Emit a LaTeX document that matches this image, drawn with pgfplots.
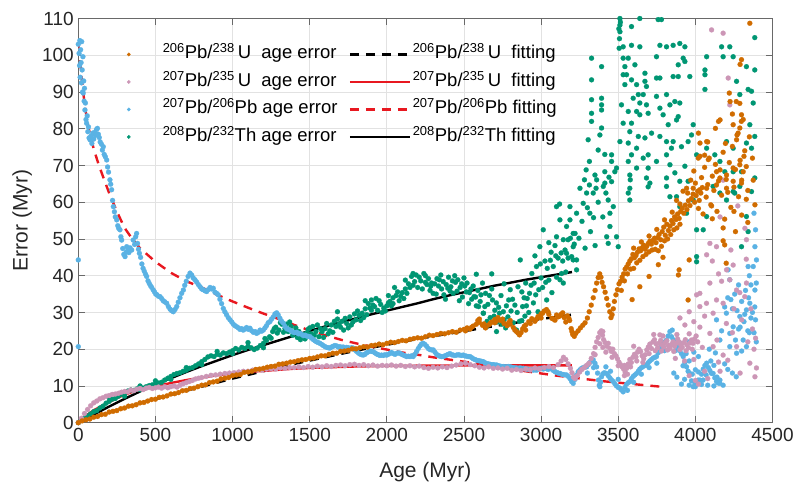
\documentclass[border=0pt]{standalone}
\usepackage{fontspec}
\setmainfont{Liberation Sans}
\usepackage{pgfplots}
\pgfplotsset{compat=1.18}

\definecolor{cUa}{RGB}{208,108,0}
\definecolor{cUb}{RGB}{204,150,182}
\definecolor{cPb}{RGB}{90,178,228}
\definecolor{cTh}{RGB}{0,150,115}
\definecolor{fitred}{RGB}{232,24,32}
\definecolor{gridgray}{RGB}{226,226,226}
\definecolor{axgray}{RGB}{105,105,105}
\definecolor{txt}{RGB}{38,38,38}

\pgfplotsset{
  scat/.style={only marks, mark=*, mark size=2.5pt, color=#1,
    mark options={solid, fill=#1, draw=#1, line width=0.2pt}, forget plot},
  fit/.style={no marks, line width=2.4pt, forget plot},
  dotentry/.style={legend image code/.code={%
    \path[draw=none, fill=none] (0pt,-4pt) rectangle (44pt,4pt);
    \fill[#1] (10pt,0pt) circle (1.7pt);}},
  lineentry/.style={legend image code/.code={%
    \draw[line width=2.4pt, #1] (0pt,0pt) -- (60pt,0pt);
    \path[draw=none] (63pt,0pt);}},
}

\begin{document}
\begin{tikzpicture}
\useasboundingbox (0,0) rectangle (796pt,485pt);
\begin{axis}[
  at={(78.3pt,62.3pt)}, anchor=south west,
  scale only axis, width=694.2pt, height=404.2pt,
  xmin=0, xmax=4500, ymin=0, ymax=110,
  xtick={0,500,...,4500}, ytick={0,10,...,110},
  /pgf/number format/assume math mode=true,
  /pgf/number format/1000 sep={},
  tick align=inside, major tick length=7pt,
  tick style={axgray, line width=0.8pt},
  axis line style={axgray, line width=0.8pt},
  grid=major, major grid style={gridgray, line width=0.7pt},
  ticklabel style={font=\fontsize{19}{22}\selectfont, text=txt},
  xticklabel style={yshift=-2pt},
  yticklabel style={xshift=-1pt},
  xlabel={Age (Myr)}, ylabel={Error (Myr)},
  label style={font=\fontsize{21}{24}\selectfont, text=txt},
  xlabel style={at={(axis description cs:0.5,-0.122)}, anchor=center},
  ylabel style={at={(axis description cs:-0.081,0.5)}, anchor=center},
  legend columns=2,
  legend cell align=left,
  legend style={at={(rel axis cs:0.058,0.935)}, anchor=north west,
    draw=none, fill=none, inner sep=0pt,
    font=\fontsize{18.5}{22}\selectfont, text=black,
    nodes={inner sep=0pt, text height=14pt, text depth=5pt},
    row sep=8.5pt,
    /tikz/every even column/.append style={column sep=11pt}},
]

% legend, row by row: scatter entry, then its fitted curve
\addlegendimage{dotentry=cUa}
\addlegendentry{\textsuperscript{206}Pb/\textsuperscript{238}\,U\ \ age error}
\addlegendimage{lineentry={black, dash pattern=on 9pt off 7pt}}
\addlegendentry{\textsuperscript{206}Pb/\textsuperscript{238}\,U\ \ fitting}
\addlegendimage{dotentry=cUb}
\addlegendentry{\textsuperscript{207}Pb/\textsuperscript{235}\,U\ \ age error}
\addlegendimage{lineentry=fitred}
\addlegendentry{\textsuperscript{207}Pb/\textsuperscript{235}\,U\ \ fitting}
\addlegendimage{dotentry=cPb}
\addlegendentry{\textsuperscript{207}Pb/\textsuperscript{206}Pb age error}
\addlegendimage{lineentry={fitred, dash pattern=on 9pt off 7pt}}
\addlegendentry{\textsuperscript{207}Pb/\textsuperscript{206}Pb fitting}
\addlegendimage{dotentry=cTh}
\addlegendentry{\textsuperscript{208}Pb/\textsuperscript{232}Th age error}
\addlegendimage{lineentry=black}
\addlegendentry{\textsuperscript{208}Pb/\textsuperscript{232}Th fitting}

% ---------- 208Pb/232Th age error ----------
\addplot[scat=cTh] coordinates {
(0,0.0) (20,0.6) (40,1.3) (60,1.8) (80,2.4) (100,3.0) (120,3.3) (140,4.0) (160,4.5) (180,5.3)
(200,5.8) (220,6.4) (240,6.6) (260,7.2) (280,7.8) (300,8.0) (320,8.6) (340,8.9) (360,8.8) (380,9.2)
(400,9.0) (420,9.4) (440,9.8) (460,10.1) (480,10.3) (500,10.5) (520,10.8) (540,11.0) (560,11.6) (580,12.1)
(600,12.6) (620,13.1) (640,13.4) (660,13.6) (680,14.0) (700,14.3) (720,14.8) (740,15.0) (760,15.5) (780,16.0)
(800,16.6) (820,17.2) (840,17.9) (860,18.2) (880,18.0) (900,18.6) (920,18.4) (940,19.0) (960,18.8) (980,19.2)
(1000,19.6) (1020,20.2) (1040,19.8) (1060,20.5) (1080,20.2) (1100,20.8) (1120,20.4) (1140,19.9) (1160,20.3) (1180,21.0)
(1200,21.6) (1220,22.4) (1240,23.4) (1260,24.8) (1280,26.0) (1300,25.2) (1320,26.8) (1340,25.6) (1360,24.8) (1380,26.2)
(1400,24.6) (1420,23.2) (1440,22.6) (1460,24.0) (1480,24.4) (1500,25.8) (1520,26.2) (1540,24.8) (1560,23.4) (1580,24.8)
(1600,25.6) (1620,24.2) (1640,26.6) (1660,27.6) (1680,28.2) (1700,26.0) (1720,25.2) (1740,27.0) (1760,28.8) (1780,27.4)
(1800,28.0) (1820,29.2) (1840,29.8) (1860,31.0) (1880,32.4) (1900,33.4) (1920,31.6) (1940,30.6) (1960,32.2) (1980,31.2)
(2000,31.8) (2020,33.0) (2040,34.0) (2060,34.6) (2080,33.2) (2100,35.4) (2120,36.4) (2140,37.8) (2160,39.8) (2180,38.4)
(2200,36.8) (2220,38.6) (2240,40.6) (2260,37.6) (2280,36.0) (2300,35.2)
(200,6.8) (300,7.2) (400,10.0) (500,11.4) (600,11.8) (700,15.0) (800,15.8) (900,19.4) (1000,18.8) (1100,21.8)
(1200,20.4) (1250,23.0) (1290,24.4) (1310,27.2) (1350,26.8) (1390,23.8) (1430,24.8) (1470,22.8) (1510,24.2) (1550,26.6)
(1590,23.2) (1630,25.0) (1670,26.2) (1710,27.6) (1750,25.8) (1790,29.6) (1830,27.8) (1870,29.4) (1910,32.0) (1950,33.2)
(1990,30.4) (2030,31.8) (2070,35.6) (2110,33.8) (2150,36.8) (2190,40.2) (2230,36.4) (2270,39.2) (2290,38.0) (1860,33.2)
(1900,30.6) (2050,36.8) (2120,38.8) (1680,30.2)
(1210,22.9) (1270,25.6) (1330,24.6) (1370,27.4) (1410,25.8) (1450,23.6) (1490,25.4) (1530,23.8) (1570,25.6) (1610,27.0)
(1650,24.6) (1690,26.8) (1730,28.4) (1770,26.6) (1810,30.4) (1850,28.6) (1890,31.2) (1930,33.8) (1970,30.0) (2010,34.6)
(2040,32.4) (2090,34.4) (2130,35.2) (2170,37.4) (2210,39.6) (2250,38.2) (2285,37.2) (2170,40.6) (2250,40.0) (2010,32.6)
(2310,37.8) (2325,39.2) (2340,38.9) (2355,36.4) (2370,34.8) (2385,37.6) (2400,39.6) (2415,37.0) (2430,35.2) (2445,38.2)
(2460,38.9) (2475,36.8) (2490,34.2) (2505,37.2) (2520,38.0) (2535,35.4) (2550,33.6) (2565,34.3) (2580,31.8) (2595,31.6)
(2610,34.8) (2625,29.8) (2640,35.2) (2655,32.2) (2670,28.6) (2685,33.4) (2700,30.6) (2715,27.4) (2730,29.8) (2745,26.8)
(2760,28.0) (2775,31.8) (2790,33.4) (2805,30.4) (2820,27.2) (2835,25.2) (2850,37.0) (2865,44.3) (2880,31.6) (2895,29.0)
(2910,33.8) (2925,35.2) (2940,40.6) (2955,38.0) (2970,42.5) (2985,36.2) (2992,47.9) (3000,39.4) (3014,52.5) (3025,44.0)
(3036,33.4) (3050,38.8) (3065,46.4) (3079,42.5) (3090,48.2) (3100,50.6) (3110,44.8) (3122,55.2) (3133,40.6) (3144,38.0)
(3155,47.0) (3165,53.4) (3175,49.8) (3187,58.8) (3198,45.2) (3208,44.3) (3220,51.5) (3230,57.0)
(2320,35.0) (2350,40.2) (2380,33.6) (2410,35.8) (2440,40.0) (2470,33.2) (2500,39.4) (2530,32.4) (2560,37.2) (2590,36.0)
(2620,38.0) (2650,27.6) (2680,36.4) (2710,32.6) (2740,34.6) (2770,25.8) (2800,36.2) (2830,32.0) (2860,27.6) (2890,34.0)
(2920,30.0) (2950,32.6) (2980,30.2) (3010,36.8) (3040,42.0) (3070,35.4) (3100,39.6) (3130,46.2) (3160,41.0) (3190,50.2)
(2645,26.1) (2711,24.8) (2841,25.2) (2626,29.8) (2580,40.4) (2680,40.5) (2760,37.8) (2900,38.0) (2960,45.4) (3050,49.0)
(2335,37.2) (2365,38.4) (2395,36.6) (2425,38.6) (2455,35.8) (2485,37.8) (2515,35.6) (2545,36.4) (2575,34.2) (2605,33.0)
(2635,31.6) (2665,34.6) (2695,29.0) (2725,31.4) (2755,30.2) (2785,28.8) (2815,33.6) (2845,30.0) (2875,35.6) (2905,31.8)
(2935,37.4) (2965,34.8) (2995,43.2) (3030,38.2) (3060,44.2) (3095,45.4) (3140,44.0) (3175,44.8) (3215,48.6) (2875,27.8)
(3120,59.5) (3100,58.8) (3144,49.8) (3165,46.1) (3187,55.2) (3208,51.5) (3208,47.9) (3230,44.3) (3230,41.6) (3122,38.9)
(3245,50.2) (3265,54.8) (3285,47.5) (3300,58.5) (3320,52.0) (3340,55.8) (3350,48.2) (3370,60.0) (3400,56.0) (3420,62.5)
(3440,66.8)
(3252,63.8) (3273,59.7) (3281,66.1) (3292,68.8) (3295,62.5) (3305,77.0) (3313,71.1) (3313,64.7) (3316,57.0) (3327,99.2)
(3327,93.3) (3327,87.9) (3327,84.2) (3327,82.0) (3338,62.5) (3349,67.4) (3356,63.8) (3360,66.1) (3370,74.2) (3381,78.3)
(3392,96.9) (3392,88.3) (3392,86.5) (3392,85.1) (3392,80.2) (3403,64.3) (3413,73.0) (3413,68.3) (3413,65.2) (3425,50.6)
(3435,60.6) (3435,48.8) (3446,57.0) (3446,53.4) (3457,72.9) (3457,71.1) (3457,65.6) (3468,58.8) (3478,68.3) (3489,69.3)
(3489,50.6) (3500,47.9) (3506,101.9) (3511,110) (3511,108.2) (3511,106.4) (3508,104.5) (3514,109.0) (3504,107.2) (3511,76.5)
(3521,86.5) (3532,102.3) (3532,99.2) (3532,94.7) (3532,81.5) (3543,96.9) (3543,92.0) (3554,94.7) (3565,99.2) (3565,84.7)
(3565,76.1) (3565,71.1) (3565,62.5) (3575,79.2) (3575,67.4) (3575,63.8) (3578,66.1) (3575,60.6) (3586,107.8) (3586,102.7)
(3586,93.3) (3586,81.5) (3586,72.9) (3597,88.3) (3608,97.4) (3619,92.0) (3619,84.7) (3619,74.7) (3619,69.3) (3630,89.3)
(3630,77.9) (3640,110) (3640,102.3) (3640,87.0) (3640,83.8) (3662,89.3) (3662,72.0) (3673,95.1) (3673,92.9) (3673,77.5)
(3683,91.5) (3683,86.5) (3683,66.6) (3694,84.2) (3694,72.9) (3694,69.3) (3694,64.2) (3705,65.2) (3716,78.8) (3748,99.6)
(3748,93.8) (3748,88.8) (3748,71.1) (3759,109.7) (3770,102.7) (3770,93.8) (3770,85.6) (3770,77.9) (3780,109.7) (3791,83.8)
(3813,102.3) (3813,89.3) (3813,76.5) (3813,72.9) (3813,66.6) (3813,64.3) (3824,81.1) (3835,86.5) (3835,70.2) (3835,61.5)
(3845,74.7) (3856,102.7) (3856,94.2) (3856,76.5) (3867,87.4) (3867,68.0) (3878,82.4) (3878,61.5) (3889,97.4) (3889,94.2)
(3889,83.3) (3899,103.2) (3899,87.0) (3899,65.7) (3899,58.8) (3910,75.1) (3921,99.2) (3932,102.3) (3932,98.3) (3932,69.8)
(3943,57.0) (3953,76.5) (3953,65.7) (3964,94.2) (3975,78.3) (3986,81.1) (3986,60.6) (4008,72.9) (4008,52.5) (4008,45.2)
(4008,43.8) (4051,52.5) (4062,96.0) (4062,94.7) (4062,90.7) (4073,99.6) (4073,74.7) (4073,56.1) (4115,64.3) (4126,72.9)
(4159,71.1) (4159,62.5) (4170,102.3) (4180,99.6) (4191,68.3) (4202,76.5) (4202,60.6) (4223,102.3) (4245,99.6) (4245,74.7)
(4245,68.3) (4245,62.9) (4255,62.5) (4267,92.9) (4288,89.3) (4288,64.3) (4299,68.3) (4299,47.9) (4331,96.9) (4331,76.1)
(4331,56.1) (4342,90.7) (4342,52.0) (4353,81.1) (4364,90.2) (4364,74.7) (4364,62.9) (4375,87.0) (4385,104.8) (4385,96.0)
(4385,77.9) (4385,66.6)
};

% ---------- 207Pb/206Pb age error ----------
\addplot[scat=cPb] coordinates {
(0,103.0) (0,44.3) (0,20.7) (5,100.5) (8,97.2) (10,104.0) (12,94.0) (15,101.5) (18,98.0) (20,92.5) (22,103.7)
(25,96.0) (28,90.0) (30,99.6) (32,89.7) (35,93.0) (38,87.5) (40,91.0) (43,85.1) (46,87.0) (50,82.5)
(54,81.5) (58,83.5) (62,79.2) (66,80.5) (70,77.5) (76,77.0) (82,78.0) (88,76.0) (94,78.8) (100,77.2)
(106,79.0) (112,78.2) (118,79.8) (124,80.1) (130,78.5) (136,77.6) (142,76.4) (150,75.8) (156,74.2) (162,75.1)
(168,73.0) (175,72.4) (184,71.5) (190,69.6) (196,68.2) (205,66.1) (210,64.9) (216,63.4) (222,60.5) (227,58.8)
(234,57.4) (240,56.0) (249,55.2) (256,53.6) (262,52.9) (270,52.5) (276,50.6) (281,49.7) (288,47.4) (295,45.8)
(303,45.2) (310,46.4) (314,47.9) (320,46.8) (328,46.3) (335,47.6) (346,47.0) (356,49.7) (365,48.5) (372,50.6)
(378,51.5) (384,48.8) (390,47.2) (396,46.1) (404,45.0) (412,43.2) (420,42.0) (428,41.2) (436,40.4) (443,39.8)
(452,38.6) (460,37.9) (468,37.3) (476,36.8) (486,36.1) (494,35.6) (502,35.0) (510,34.8) (520,34.4) (530,34.3)
(540,33.8) (550,33.2) (560,32.9) (573,32.5) (584,31.6) (595,30.9) (605,30.5) (616,30.2) (627,30.8) (638,31.6)
(648,32.8) (659,34.0) (670,35.2) (681,36.1) (690,37.4) (700,38.5) (712,39.8) (724,40.7) (735,40.2) (745,39.4)
(756,38.9) (767,38.3) (778,37.6) (789,37.0) (800,36.4) (810,36.2) (821,35.9) (832,35.7) (843,36.2) (854,36.8)
(865,36.4) (875,36.6) (886,35.5) (897,35.2) (907,34.8) (918,33.6) (929,32.4) (940,31.1) (950,30.2) (961,29.4)
(972,28.6) (983,28.0) (995,27.4) (1005,26.8) (1016,26.4) (1027,26.1) (1038,25.8) (1048,25.4) (1059,25.6) (1069,25.2)
(1080,25.5) (1091,25.9) (1102,25.4) (1113,25.7) (1124,25.0) (1135,24.6) (1146,24.8) (1156,24.3) (1167,24.6) (1178,25.2)
(1188,24.9) (1199,25.2) (1210,25.8) (1220,26.4) (1231,27.2) (1242,27.5) (1253,28.2) (1264,28.8) (1275,29.6) (1286,29.9)
(1296,29.3) (1307,28.4) (1318,27.6) (1329,27.1) (1340,26.2) (1350,25.6) (1361,25.4) (1372,25.2) (1383,24.9) (1394,24.6)
(1405,24.5) (1416,24.6) (1426,24.2) (1437,24.3) (1448,24.0) (1459,23.7) (1470,23.8) (1480,23.6) (1491,23.5) (1502,23.4)
(1513,23.0) (1524,22.6) (1534,22.3) (1545,22.0) (1556,21.8) (1567,21.6) (1578,21.3) (1588,21.0) (1599,20.7) (1610,20.5)
(1620,20.4) (1631,20.3) (1642,20.6) (1653,20.8) (1663,21.0) (1674,20.9) (1685,20.6) (1696,20.7) (1707,20.4) (1717,20.6)
(1728,20.2) (1739,20.5) (1750,20.4) (1761,20.1) (1771,20.4) (1782,20.3) (1793,19.8) (1804,19.4) (1815,19.0) (1825,18.7)
(1836,18.5) (1847,18.4) (1858,18.6) (1869,19.0) (1880,19.3) (1890,19.5) (1901,19.4) (1912,19.3) (1923,19.0) (1934,18.7)
(1945,18.5) (1955,18.3) (1966,18.4) (1977,18.3) (1988,18.5) (1999,18.4) (2010,18.6) (2021,18.9) (2031,19.1) (2042,18.8)
(2053,18.6) (2064,18.9) (2075,19.0) (2085,18.9) (2096,18.6) (2107,18.4) (2118,18.2) (2129,18.0) (2139,18.1) (2150,18.0)
(2161,18.2) (2171,18.0) (2182,18.6) (2193,19.4) (2204,20.2) (2215,20.9) (2225,21.4) (2236,21.6) (2247,21.3) (2258,20.8)
(2269,20.2) (2279,19.9) (2290,19.8) (2301,19.8) (2312,19.2) (2323,18.6) (2334,18.3) (2344,18.1) (2355,18.0) (2366,18.0)
(2377,18.2) (2388,18.4) (2398,18.6) (2409,18.8) (2420,18.5) (2430,18.4) (2441,18.3) (2452,18.4) (2463,18.5) (2473,18.4)
(2484,18.3) (2495,18.4) (2506,18.2) (2517,18.1) (2528,18.0) (2539,18.0) (2550,17.7) (2560,17.4) (2571,17.2) (2582,17.0)
(2593,16.9) (2604,16.8) (2615,16.7) (2626,16.6) (2636,16.3) (2647,16.1) (2658,16.0) (2669,15.9) (2680,15.8) (2690,15.8)
(2701,15.7) (2712,15.7) (2723,15.5) (2733,15.4) (2744,15.3) (2755,15.3) (2766,15.2) (2777,15.2) (2787,15.3) (2798,15.2)
(2809,15.1) (2820,15.0) (2831,14.9) (2841,14.9) (2852,14.8) (2863,14.9) (2874,14.8) (2884,14.8) (2895,14.7) (2906,14.6)
(2917,14.5) (2928,14.4) (2938,14.5) (2949,14.3) (2960,14.4) (2971,14.3) (2982,14.5) (2992,14.7) (3003,14.8) (3014,14.6)
(3025,14.8) (3036,14.7) (3046,14.5) (3057,14.8) (3068,14.6) (3079,14.2) (3090,13.9) (3100,13.7) (3111,13.5) (3122,13.4)
(3133,13.2) (3144,13.1) (3155,13.0) (3165,13.0) (3176,12.6) (3187,12.0) (3198,11.2) (3208,10.7) (3220,11.8) (3230,13.0)
(3241,13.9) (3252,14.4) (3263,14.8) (3274,15.0) (3285,15.2) (3295,15.2) (3306,15.8) (3317,16.4) (3328,16.9) (3338,17.1)
(3349,16.2) (3360,15.2) (3366,13.5) (3372,11.6) (3377,10.2) (3381,9.8) (3386,11.0) (3392,12.5) (3400,13.3) (3410,13.6)
(3425,13.4) (3435,12.8) (3446,12.2) (3457,11.6) (3468,11.2) (3478,10.6) (3489,10.0) (3500,9.6) (3511,9.4) (3521,8.9)
(3532,8.4) (3543,9.6) (3554,10.5) (3565,10.9) (3575,11.2) (3586,12.0) (3597,12.6) (3608,13.0) (3619,13.4) (3630,14.0)
(3640,14.6) (3651,15.0) (3662,15.3) (3673,15.6) (3684,15.7) (3694,16.3) (3705,16.8) (3716,17.2) (3727,17.6) (3738,17.8)
(3748,18.0) (3759,19.0) (3770,20.0) (3781,20.8) (3791,21.4) (3802,22.0) (3813,22.5) (3824,23.6) (3835,24.8) (3845,23.4)
(3856,22.6) (3867,22.0) (3878,21.6) (3889,20.6) (3899,19.6) (3910,18.8) (3921,18.0) (3932,16.4) (3943,15.2) (3953,14.0)
(3964,13.4) (3975,11.4) (3986,9.8) (3997,10.6) (4008,11.0) (4018,11.6) (4029,11.6) (4040,13.2) (4051,14.6) (4062,15.6)
(4073,16.2) (4084,15.0) (4094,14.2) (4105,13.4) (4115,13.4) (4126,12.2) (4137,11.2) (4148,10.8) (4159,10.7)
(3300,13.5) (3340,15.0) (3420,15.2) (3450,14.0) (3500,11.8) (3560,8.8) (3600,11.0) (3650,13.2) (3700,15.0) (3750,16.2)
(3800,19.6) (3830,20.8) (3850,25.2) (3870,19.6) (3900,21.6) (3920,15.5) (3940,18.8) (3960,16.8) (3980,13.2) (4000,14.4)
(4020,13.8) (4050,11.6) (4070,13.0) (4100,16.8) (4120,15.6) (4140,12.4) (3910,10.5) (3930,11.8) (3960,10.2) (4000,9.8)
(4040,10.4) (4080,10.2) (4120,10.0) (4150,11.0) (3960,22.0) (3990,19.2) (4020,18.0) (4090,20.0) (3860,13.5) (3880,12.4)
(4137,28.0) (4201,29.8) (4245,26.1) (4288,28.9) (4331,30.7) (4353,32.5) (4223,24.3) (4159,22.5) (4223,20.7) (4310,22.5)
(4267,18.9) (4331,20.7) (4223,38.9) (4212,41.6) (4386,36.1) (4386,47.9) (4396,44.3) (4375,42.5) (4342,42.5) (4159,11.6)
(4180,10.2) (4170,25.0) (4190,31.5) (4230,33.5) (4255,35.0) (4270,30.5) (4280,25.5) (4300,33.0) (4315,27.5) (4325,36.0)
(4340,25.0) (4345,34.0) (4360,28.5) (4370,30.0) (4380,24.5) (4385,31.5) (4390,28.0) (4395,38.0) (4240,31.0) (4260,22.5)
(4280,37.5) (4300,19.5) (4320,29.5) (4350,24.5) (4360,37.5) (4190,16.0) (4210,14.5) (4240,13.5) (4265,12.5) (4290,26.0)
(4390,52.5) (4380,57.0) (4210,34.0) (4350,40.0) (4395,22.0) (4130,19.0)
};

% ---------- 207Pb/235U age error ----------
\addplot[scat=cUb] coordinates {
(0,0) (20,1.2) (40,2.5) (60,3.6) (80,4.6) (100,5.4) (120,5.9) (140,6.5) (160,6.8) (180,7.2)
(200,7.4) (220,7.7) (240,7.8) (260,8.0) (280,8.3) (300,8.5) (320,8.4) (340,8.9) (360,8.7) (380,9.1)
(400,9.3) (420,9.0) (440,9.4) (460,9.6) (480,9.3) (500,9.5) (520,9.7) (540,9.4) (560,9.8) (580,9.5)
(600,9.8) (620,10.0) (640,9.7) (660,10.2) (680,10.6) (700,10.9) (720,11.2) (740,11.5) (760,11.9) (780,12.1)
(800,12.3) (830,12.6) (860,12.9) (890,13.0) (920,13.2) (950,13.4) (980,13.5) (1010,13.6) (1040,13.8) (1070,14.0)
(1100,14.0) (1130,14.3) (1160,14.4) (1190,14.3) (1220,14.6) (1250,14.7) (1280,14.6) (1310,14.9) (1340,14.8) (1370,15.0)
(1400,15.0) (1430,15.2) (1460,15.0) (1490,15.3) (1520,15.1) (1550,15.4) (1580,15.2) (1610,15.5) (1640,15.3) (1670,15.6)
(1700,15.7) (1730,15.5) (1760,15.8) (1790,15.9) (1820,15.6) (1850,15.8) (1880,15.5) (1910,15.7) (1940,15.4) (1970,15.6)
(2000,15.5) (2030,15.7) (2060,15.4) (2090,15.6) (2120,15.3) (2150,15.5) (2180,15.2) (2210,15.4) (2240,15.0) (2270,14.8)
(2300,15.1) (2330,14.9) (2360,15.2) (2390,15.0) (2420,15.4) (2450,15.7) (2480,16.0) (2510,16.2) (2540,15.8) (2570,15.5)
(2600,15.1) (2630,14.9) (2660,15.2) (2690,14.8) (2720,14.9) (2750,14.6) (2780,14.8) (2810,14.3) (2840,14.5) (2870,14.2)
(2900,14.6) (2930,14.4) (2960,14.9) (2990,14.6) (3020,15.0) (3050,15.3) (3080,15.0) (3110,15.8) (3130,16.8) (3145,17.8)
(3160,17.2) (3175,16.0) (3190,14.8) (3200,13.6) (3210,12.4)
(3220,12.0) (3235,12.8) (3250,13.8) (3265,14.5) (3280,15.0) (3295,15.6) (3310,16.2) (3325,17.5) (3340,18.8) (3350,20.5)
(3360,22.0) (3370,23.2) (3380,24.5) (3390,25.0) (3398,23.8) (3405,22.6) (3415,21.8) (3425,20.8) (3435,21.6) (3445,20.2)
(3455,19.4) (3465,20.0) (3475,18.8) (3485,18.2) (3495,17.4) (3505,16.5) (3515,15.8) (3525,15.2) (3535,14.6) (3545,13.8)
(3555,14.8) (3565,16.0) (3575,17.2) (3585,16.4) (3595,17.8) (3605,18.6) (3615,17.9) (3625,19.2) (3635,20.0) (3645,19.4)
(3655,18.2) (3665,17.4) (3675,18.5) (3685,19.8) (3695,20.6) (3705,21.4) (3715,20.2) (3725,22.0) (3735,22.6) (3745,21.5)
(3755,20.4) (3765,21.6) (3775,22.4) (3785,21.2) (3795,20.6) (3805,21.8) (3815,22.3) (3825,21.0) (3835,20.2) (3845,21.3)
(3855,22.0) (3865,20.8) (3875,21.6) (3885,22.8) (3895,22.0) (3905,21.2) (3915,20.5) (3925,21.8) (3935,22.6) (3945,21.2)
(3955,20.4) (3965,21.7) (3975,22.5) (3985,21.6) (3995,22.8) (4005,23.6) (4015,22.0)
(3350,18.5) (3380,21.5) (3400,20.5) (3420,19.2) (3460,17.8) (3500,15.5) (3540,15.6) (3580,15.2) (3620,16.8) (3660,16.4)
(3700,18.8) (3740,19.6) (3780,19.5) (3820,19.8) (3860,19.4) (3900,19.9) (3940,19.6) (3980,20.0) (3400,24.8) (3600,20.8)
(3730,24.0) (3790,23.6) (3880,24.0) (3960,24.2) (3540,12.8) (3560,13.2) (3870,17.5) (3930,16.8) (3990,17.2) (3960,12.8)
(4000,11.5) (4020,10.5) (3990,27.5) (4008,34.8) (4029,31.6) (3932,26.6) (3770,23.9) (3900,28.5) (3960,30.2)
(4029,35.2) (4094,38.0) (4072,32.5) (4115,29.8) (4137,33.4) (4180,32.5) (4267,36.1) (4331,38.0) (4320,34.3) (4201,27.0)
(4094,24.3) (4115,20.7) (4180,18.4) (4267,20.7) (4353,16.2) (4386,12.5) (4396,14.9) (4029,26.0) (4105,106.9) (4180,106.0)
(4213,93.8) (4223,86.5) (4180,66.0) (4094,48.8) (4073,45.7) (4137,47.9) (4202,41.6) (4223,38.9) (4245,42.9) (4321,52.9)
(4331,49.8) (4288,35.4) (4060,14.0) (4080,12.0) (4150,16.5) (4160,14.0) (4240,24.5) (4300,28.0) (4340,22.0) (4370,25.5)
(4380,20.0) (4250,31.0) (4150,40.5) (4110,44.0) (4230,47.0) (4360,31.0) (4390,23.0) (4275,59.0) (4160,56.0) (4045,20.5)
(4060,29.0) (4140,22.5) (4210,17.0) (4290,13.5) (4330,44.5) (4170,38.5)
};

% ---------- 206Pb/238U age error ----------
\addplot[scat=cUa] coordinates {
(0,0.0) (25,0.5) (50,0.8) (75,1.0) (100,1.5) (125,1.7) (150,2.2) (175,2.3) (200,2.9) (225,3.1)
(250,3.3) (275,3.8) (300,4.0) (325,4.5) (350,4.6) (375,4.9) (400,5.4) (425,5.5) (450,5.9) (475,6.3)
(500,6.4) (525,6.9) (550,7.0) (575,7.3) (600,7.8) (625,7.9) (650,8.2) (675,8.7) (700,8.8) (725,9.3)
(750,9.4) (775,9.8) (800,10.2) (825,10.3) (850,10.9) (875,11.1) (900,11.3) (925,11.9) (950,12.1) (975,12.3)
(1000,12.8) (1025,13.0) (1050,13.1) (1075,13.7) (1100,13.8) (1125,14.0) (1150,14.5) (1175,14.6) (1200,14.8) (1225,15.1)
(1250,15.3) (1275,15.4) (1300,15.9) (1325,16.0) (1350,16.2) (1375,16.5) (1400,16.6) (1425,16.9) (1450,17.1) (1475,17.2)
(1500,17.5) (1525,17.6) (1550,17.9) (1575,18.2) (1600,18.2) (1625,18.6) (1650,18.9) (1675,18.9) (1700,19.4) (1725,19.5)
(1750,19.7) (1775,20.1) (1800,20.1) (1825,20.4) (1850,20.7) (1875,20.6) (1900,21.0) (1925,21.1) (1950,21.4) (1975,21.2)
(2000,21.6) (2025,21.9) (2050,21.8) (2075,22.1) (2100,22.4) (2125,22.3) (2150,22.7) (2175,22.9) (2200,23.1) (2225,23.0)
(2250,23.4) (2275,23.8) (2300,23.7) (2325,24.0) (2350,24.3) (2375,24.2) (2400,24.5) (2425,24.8) (2450,24.6) (2475,25.2)
(2500,25.4)
(2520,25.8) (2540,25.5) (2560,26.3) (2580,26.8) (2600,27.3) (2620,26.5) (2640,25.8) (2660,26.6) (2680,27.4) (2700,28.1)
(2720,28.6) (2740,27.8) (2760,27.0) (2780,26.4) (2800,26.8) (2820,25.9) (2840,24.8) (2860,23.9) (2870,24.5) (2880,25.5)
(2900,26.6) (2920,27.5) (2940,28.3) (2960,27.6) (2980,28.9) (3000,29.6) (3020,30.4) (3035,30.8) (3050,29.5) (3070,28.4)
(3090,27.9) (3110,28.8) (3130,29.5) (3150,28.6) (3170,29.1) (3185,27.8) (3195,25.6) (3205,24.0) (3215,23.5)
(2600,28.2) (2700,27.2) (2800,27.8) (2900,25.2) (3000,28.5) (3100,29.3) (3160,27.4)
(2510,25.0) (2550,26.0) (2590,27.8) (2630,26.9) (2670,27.0) (2710,27.6) (2750,28.2) (2790,27.2) (2830,25.2) (2850,24.4)
(2890,26.2) (2930,27.0) (2970,28.2) (3010,29.8) (3045,30.2) (3080,28.2) (3120,29.0) (3140,29.9) (3180,28.4) (3200,24.8)
(3225,24.3) (3240,25.0) (3255,25.8) (3270,26.5) (3285,27.2) (3300,28.5) (3312,30.2) (3325,32.0) (3338,34.0) (3350,36.0)
(3360,38.0) (3370,39.5) (3380,40.5) (3388,39.6) (3395,38.2) (3405,37.0) (3415,35.5) (3425,33.8) (3435,32.0) (3445,30.2)
(3453,28.6) (3460,29.4) (3468,31.0) (3475,33.0) (3485,34.8) (3495,36.2) (3505,37.8) (3515,38.5) (3525,39.6) (3535,40.5)
(3545,41.8) (3555,42.4) (3565,43.2) (3575,44.0) (3585,44.6) (3595,45.8) (3605,44.9) (3615,45.5) (3625,46.4) (3635,47.3)
(3645,46.8) (3655,47.6) (3665,48.3) (3675,47.2) (3685,48.0) (3695,48.8) (3705,49.4) (3715,48.6) (3725,49.6) (3735,50.2)
(3745,49.0) (3755,50.4) (3765,51.2) (3775,49.8) (3785,52.0) (3795,53.2) (3805,51.0) (3815,54.0) (3825,52.3) (3835,53.5)
(3845,55.0) (3855,54.2) (3865,56.0) (3875,55.3) (3885,56.8) (3895,55.6) (3905,57.5) (3915,58.4) (3925,57.0) (3935,59.2)
(3945,58.0) (3955,60.4) (3965,59.1) (3975,61.0) (3985,62.2) (3995,60.0) (4005,61.8) (4015,63.0) (4025,60.5) (4035,62.5)
(4045,64.0)
(3520,36.0) (3540,38.6) (3560,40.5) (3580,41.8) (3600,42.0) (3620,43.5) (3640,44.2) (3660,45.2) (3680,45.8) (3700,46.5)
(3720,47.0) (3740,47.2) (3760,46.8) (3780,48.0) (3800,49.5) (3820,50.0) (3840,51.2) (3860,52.5) (3880,53.0) (3900,54.0)
(3600,47.5) (3650,49.2) (3700,50.8) (3750,52.6) (3800,55.2) (3850,57.3) (3900,59.5) (3950,62.5) (3920,63.0)
(3590,33.5) (3640,37.0) (3700,39.8) (3760,43.0) (3790,45.0) (3890,40.2) (3895,41.6) (3953,33.4) (3960,44.3) (4190,48.4)
(4200,43.4) (4180,49.5) (4300,56.5)
(4000,65.2) (4020,58.3) (4040,66.7) (4050,56.8) (4060,69.5) (4070,61.4) (4080,64.8) (4090,72.0) (4100,59.3) (4110,67.1)
(4120,63.2) (4130,70.3) (4140,57.5) (4150,65.8) (4160,68.8) (4170,61.9) (4180,73.6) (4190,55.4) (4200,66.2) (4210,62.7)
(4220,70.8) (4230,58.6) (4240,75.2) (4250,64.1) (4260,68.9) (4270,78.3) (4280,61.5) (4290,71.4) (4300,66.0) (4310,82.5)
(4320,74.0) (4330,69.7) (4340,63.2) (4350,77.8) (4030,72.5) (4080,76.4) (4130,80.1) (4160,82.4) (4150,82.0) (4220,89.7)
(4225,87.4) (4265,87.4) (4288,86.9) (4299,83.8) (4298,82.0) (4288,80.2) (4277,78.8) (4267,77.0) (4245,81.1) (4020,78.8)
(4030,76.1) (4073,76.5) (4019,72.0) (4084,71.6) (4137,68.3) (4159,66.6) (4202,67.4) (4245,69.3) (4288,70.2) (4310,68.3)
(4299,65.2) (4245,65.7) (4202,63.8) (4137,64.7) (4073,63.8) (4029,63.4) (3986,63.8) (3943,63.8) (3878,60.5) (4299,98.8)
(4290,97.5) (4353,108.7) (4105,59.0) (4180,53.0) (4250,57.5) (4330,60.8) (4340,54.5) (4260,52.0) (4110,55.5) (3970,66.0)
(3990,68.5) (4060,72.8) (4195,76.0) (4240,84.0) (4315,72.5) (4386,59.3) (4375,66.0) (4370,72.0)
};

% ---------- fitted curves ----------
\addplot[fit, black, dash pattern=on 9pt off 7pt] coordinates {
(0,0) (100,1.5) (200,2.8) (300,4.1) (400,5.3) (500,6.4) (600,7.6) (700,8.7) (800,9.8) (900,10.9)
(1000,12.0) (1100,13.0) (1200,14.0) (1300,15.0) (1400,16.0) (1500,16.9) (1600,17.8) (1700,18.7) (1800,19.6)
(1900,20.4) (2000,21.2) (2100,22.0) (2200,22.8) (2300,23.5) (2400,24.2) (2500,24.9) (2600,25.6) (2700,26.3)
(2800,27.0) (2900,27.6) (3000,28.2) (3100,28.8) (3200,29.4)
};
\addplot[fit, fitred] coordinates {
(0,0) (50,1.9) (100,3.4) (150,4.5) (200,5.6) (250,6.7) (300,7.6) (350,8.4) (400,9.0) (500,9.9)
(600,10.8) (700,11.6) (800,12.3) (900,12.9) (1000,13.4) (1100,13.8) (1200,14.1) (1300,14.4) (1400,14.7)
(1500,14.9) (1600,15.05) (1800,15.3) (2000,15.45) (2300,15.55) (2600,15.6) (2900,15.6) (3200,15.6)
};
\addplot[fit, fitred, dash pattern=on 9pt off 7pt] coordinates {
(0,103) (10,99) (20,94.5) (30,90.5) (45,85.5) (60,81.5) (80,77.8) (100,74.5) (130,70.5) (160,67.0)
(200,62.5) (250,57.5) (300,53.0) (350,50.0) (400,47.5) (500,43.8) (600,40.8) (700,38.5) (800,36.8)
(900,34.8) (1000,33.0) (1100,31.3) (1200,29.7) (1300,28.2) (1400,26.6) (1500,25.1) (1600,23.8) (1700,22.6)
(1800,21.6) (1900,20.7) (2000,19.9) (2100,19.1) (2200,18.5) (2300,17.8) (2400,17.2) (2500,16.6) (2600,16.0)
(2700,15.3) (2800,14.6) (2900,14.0) (3000,13.4) (3100,12.8) (3200,12.3) (3300,11.8) (3400,11.3) (3500,10.9)
(3600,10.5) (3700,10.1) (3800,9.7)
};
\addplot[fit, black] coordinates {
(0,0) (100,2.2) (200,4.4) (300,6.5) (400,8.5) (500,10.4) (600,12.1) (700,13.8) (800,15.4) (900,16.9)
(1000,18.4) (1100,19.8) (1200,21.1) (1300,22.4) (1400,23.7) (1500,25.0) (1600,26.2) (1700,27.3) (1800,28.4)
(1900,29.5) (2000,30.5) (2100,31.5) (2200,32.5) (2300,33.6) (2400,34.6) (2500,35.5) (2600,36.4) (2700,37.3)
(2800,38.1) (2900,38.9) (3000,39.6) (3100,40.3) (3200,41.0)
};
\end{axis}
\end{tikzpicture}
\end{document}
